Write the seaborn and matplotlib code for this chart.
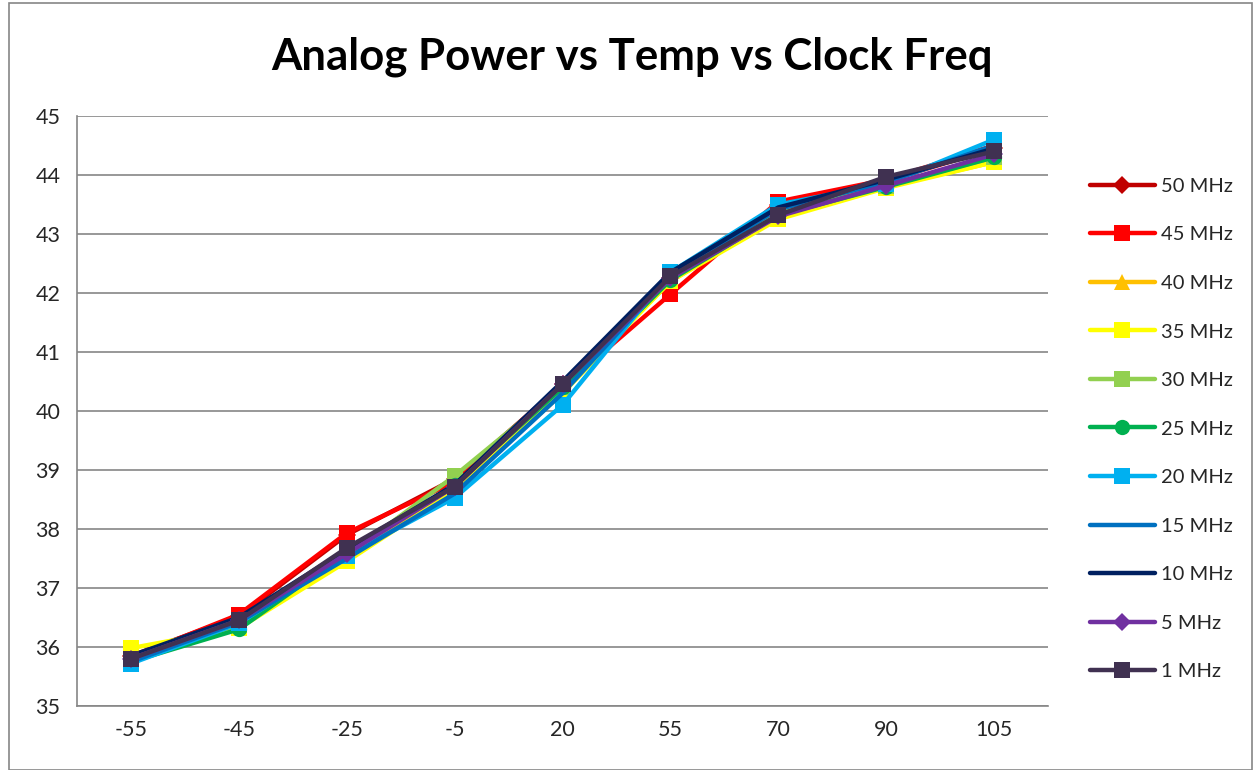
import matplotlib
matplotlib.use("Agg")
import matplotlib.pyplot as plt
import seaborn as sns
import numpy as np
import pandas as pd
from matplotlib.lines import Line2D
from matplotlib.patches import Rectangle

temps = ["-55", "-45", "-25", "-5", "20", "55", "70", "90", "105"]
series_names = ["50 MHz", "45 MHz", "40 MHz", "35 MHz", "30 MHz", "25 MHz",
                "20 MHz", "15 MHz", "10 MHz", "5 MHz", "1 MHz"]
mhz50 = [35.85, 36.52, 37.90, 38.85, 40.45, 42.25, 43.50, 43.90, 44.45]
mhz45 = [35.82, 36.55, 37.93, 38.80, 40.40, 41.98, 43.55, 43.92, 44.50]
mhz40 = [35.80, 36.40, 37.50, 38.70, 40.35, 42.20, 43.30, 43.80, 44.22]
mhz35 = [35.98, 36.32, 37.45, 38.65, 40.30, 42.20, 43.25, 43.78, 44.22]
mhz30 = [35.78, 36.38, 37.55, 38.90, 40.40, 42.30, 43.35, 43.82, 44.30]
mhz25 = [35.75, 36.30, 37.60, 38.75, 40.40, 42.22, 43.32, 43.80, 44.30]
mhz20 = [35.72, 36.40, 37.55, 38.53, 40.10, 42.35, 43.50, 43.85, 44.60]
mhz15 = [35.75, 36.42, 37.50, 38.60, 40.30, 42.30, 43.42, 43.88, 44.50]
mhz10 = [35.85, 36.50, 37.65, 38.75, 40.50, 42.35, 43.45, 43.92, 44.45]
mhz5 = [35.80, 36.45, 37.58, 38.72, 40.45, 42.25, 43.30, 43.82, 44.35]
mhz1 = [35.80, 36.45, 37.68, 38.72, 40.45, 42.28, 43.32, 43.97, 44.40]
values = [mhz50, mhz45, mhz40, mhz35, mhz30, mhz25, mhz20, mhz15, mhz10, mhz5, mhz1]

colors = ["#C00000", "#FF0000", "#FFC000", "#FFFF00", "#92D050", "#00B050",
          "#00B0F0", "#0070C0", "#002060", "#7030A0", "#403151"]
markers = ["D", "s", "^", "s", "s", "o", "s", None, None, "D", "s"]
msizes = [9, 11, 11, 11, 11, 11, 11, 0, 0, 9, 12]

sns.set_theme(style="white")
plt.rcParams['font.family'] = ['Lato', 'DejaVu Sans']

fig = plt.figure(figsize=(12.53, 7.7), dpi=100)
ax = fig.add_axes([77/1253, 64/770, (1048-77)/1253, (706-116)/770])

pos = np.arange(len(temps))
handles = []
for name, vals, c, m, ms in zip(series_names, values, colors, markers, msizes):
    df = pd.DataFrame({"x": pos, "y": vals})
    sns.lineplot(data=df, x="x", y="y", ax=ax, color=c, linewidth=3.2,
                 marker=m if m else None, markersize=ms, markeredgewidth=0,
                 legend=False)
    handles.append(Line2D([0], [0], color=c, linewidth=3.2, marker=m if m else None,
                          markersize=ms, markeredgewidth=0,
                          solid_capstyle="round", label=name))

ax.set_xlim(-0.5, len(temps) - 0.5)
ax.set_ylim(35, 45)
ax.set_yticks(np.arange(35, 46, 1))
ax.set_yticklabels([str(v) for v in range(35, 46)], fontsize=15.5)
ax.set_xticks(pos)
ax.set_xticklabels(temps, fontsize=15.5)
ax.set_xticks(np.arange(-0.5, len(temps), 1), minor=True)
ax.tick_params(axis="x", which="major", length=0, pad=10)
ax.tick_params(axis="x", which="minor", length=6, color="#868686", width=1.2, direction="out")
ax.tick_params(axis="y", which="major", length=6, color="#868686", width=1.2, direction="out", pad=6)
ax.grid(axis="y", color="#868686", linewidth=1.2)
ax.set_axisbelow(True)
for s in ["top", "right"]:
    ax.spines[s].set_visible(False)
for s in ["left", "bottom"]:
    ax.spines[s].set_color("#868686")
    ax.spines[s].set_linewidth(1.2)
ax.set_xlabel("")
ax.set_ylabel("")

fig.text(632/1253, 1 - 57/770, "Analog Power vs Temp vs Clock Freq",
         ha="center", va="center", fontsize=31.5, fontweight="bold", color="black")

fig.legend(handles=handles, loc="center left", bbox_to_anchor=(1080/1253, 1 - 429/770),
           frameon=False, fontsize=14.5, handlelength=3.2, handletextpad=0.3,
           labelspacing=1.56, borderpad=0)

fig.patches.append(Rectangle((9/1253, 0.0), 1 - 9/1253 - 0.001, 1 - 3/770,
                             transform=fig.transFigure, fill=False,
                             edgecolor="#868686", linewidth=1.2))

fig.savefig("out.png", dpi=100, facecolor="white")
